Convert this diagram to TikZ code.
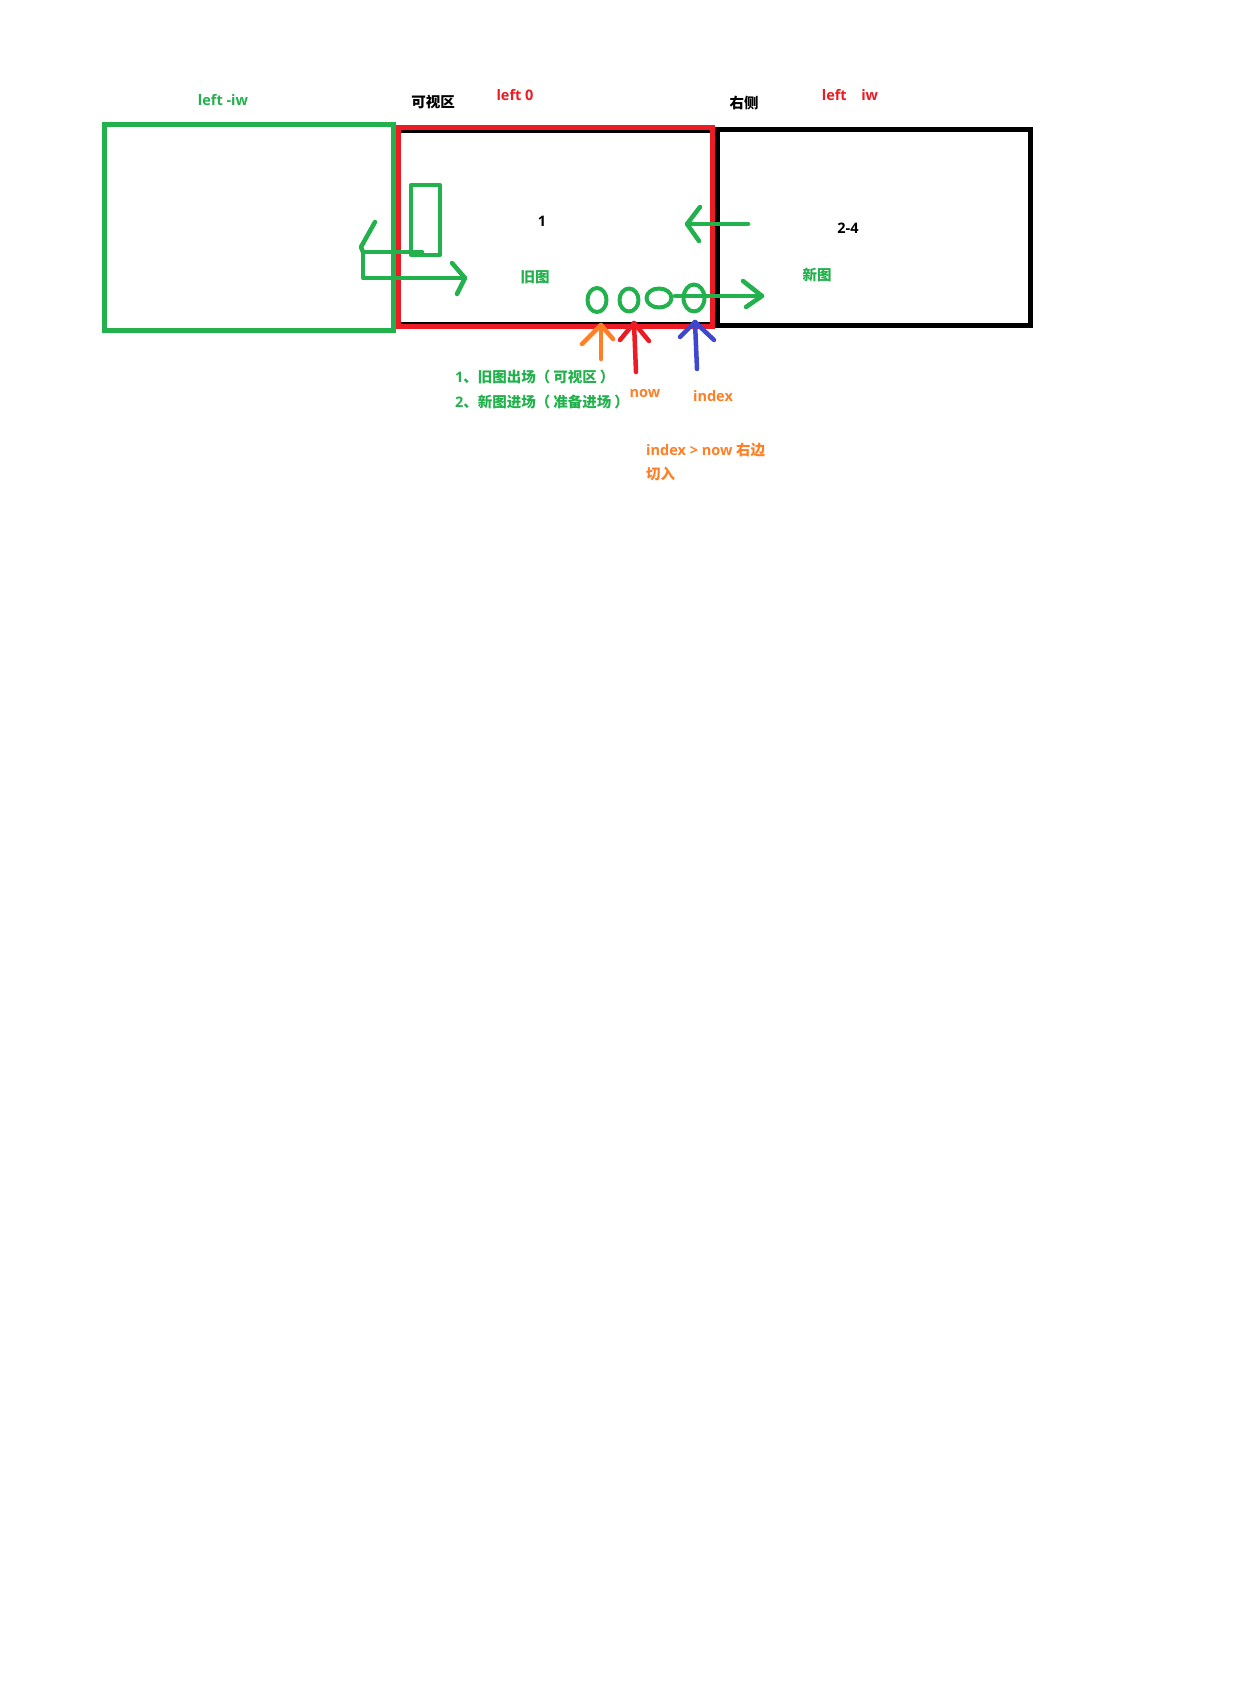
\documentclass[tikz,border=0pt]{standalone}
\usepackage{fontspec}
\setmainfont{Open Sans}
\newfontfamily\cjk{Noto Sans CJK SC}
\definecolor{pgreen}{HTML}{22B14C}
\definecolor{pred}{HTML}{ED1C24}
\definecolor{porange}{HTML}{FF7F27}
\definecolor{pblue}{HTML}{3F48CC}
\begin{document}
\begin{tikzpicture}[x=1pt, y=-1pt, every node/.style={font=\fontsize{14.5}{17}\selectfont\bfseries, inner sep=0pt},
  box/.style={line width=5pt}, stroke/.style={line width=4.5pt, line cap=round, line join=round}]
\useasboundingbox[fill=white] (0,0) rectangle (1232,1696);

   % Tres cuadros: izquierdo, visible, derecho
   \draw[box, pgreen] (104.5,125) rectangle (393,330);
   \draw[line width=3pt] (398,131.5) -- (712,131.5);
   \draw[line width=3pt] (398,323) -- (712,323);
   \draw[box, pred] (398.5,127.5) rectangle (712.5,326.5);
   \draw[box] (717.5,129.5) rectangle (1030.5,325);
   \draw[stroke, line width=4pt, pgreen] (411,185) rectangle (440,255);

   % Etiquetas superiores
   \node[pgreen] (lmiw) at (223,100) {left -iw};
   \node (kszone) at (433,102) {\cjk 可视区};
   \node[pred] (lzero) at (515,95) {left 0};
   \node (rside) at (744,103) {\cjk 右侧};
   \node[pred] (liw) at (850,95) {left\quad iw};

   % Textos dentro de los cuadros
   \node (one) at (542,221) {1};
   \node (twofour) at (848,228) {2-4};
   \node[pgreen] (oldimg) at (535,277) {\cjk 旧图};
   \node[pgreen] (newimg) at (817,275) {\cjk 新图};

   % Flecha del cuadro izquierdo
   \coordinate (la1) at (422,252);
   \coordinate (la2) at (363,252);
   \coordinate (la3) at (363,278);
   \coordinate (la4) at (465,278);
   \draw[stroke, pgreen] (la1) -- (la2) -- (la3) -- (la4);
   \draw[stroke, pgreen] (452,263) -- (la4) -- (457,294);
   \draw[stroke, pgreen] (375,222) -- (361,247) -- (la2);

   % Flechas del cuadro derecho
   \coordinate (ra1) at (748,224);
   \coordinate (ra2) at (687,224);
   \draw[stroke, pgreen] (ra1) -- (ra2);
   \draw[stroke, pgreen] (700,207) -- (ra2) -- (699,241);
   \coordinate (rb1) at (675,296);
   \coordinate (rb2) at (762,296);
   \draw[stroke, pgreen] (rb1) -- (rb2);
   \draw[stroke, pgreen] (743,281) -- (rb2) -- (746,307);

   % Puntos (indicadores)
   \draw[stroke, line width=4pt, pgreen] (597,300) ellipse [x radius=9.5, y radius=12];
   \draw[stroke, line width=4pt, pgreen] (629,300) ellipse [x radius=9.5, y radius=11.5];
   \draw[stroke, line width=4pt, pgreen] (659,298) ellipse [x radius=12.5, y radius=9.5];
   \draw[stroke, line width=4pt, pgreen] (694,298) ellipse [x radius=10.5, y radius=13.5];

   % Flechas de abajo
   \coordinate (oa) at (601,359);
   \coordinate (ot) at (601,325);
   \draw[stroke, porange] (oa) -- (ot);
   \draw[stroke, porange] (582,344) -- (ot) -- (613,339);
   \coordinate (na) at (636,372);
   \coordinate (nt) at (634,323);
   \draw[stroke, pred] (na) -- (nt);
   \draw[stroke, pred] (620,340) -- (nt) -- (649,341);
   \coordinate (ia) at (697,369);
   \coordinate (it) at (695,322);
   \draw[stroke, pblue] (ia) -- (it);
   \draw[stroke, pblue] (680,337) -- (it) -- (714,340);

   % Textos de abajo
   \node[pgreen, anchor=west] (step1) at (455,377) {1{\cjk 、旧图出场（\kern3pt 可视区\kern3pt ）}};
   \node[pgreen, anchor=west] (step2) at (455,402) {2{\cjk 、新图进场（\kern3pt 准备进场\kern3pt ）}};
   \node[porange] (nowlbl) at (645,394) {now};
   \node[porange] (idxlbl) at (713,396) {index};
   \node[porange, anchor=west] (rule1) at (646,450) {index > now {\cjk 右边}};
   \node[porange, anchor=west] (rule2) at (646,474) {\cjk 切入};

\end{tikzpicture}
\end{document}
